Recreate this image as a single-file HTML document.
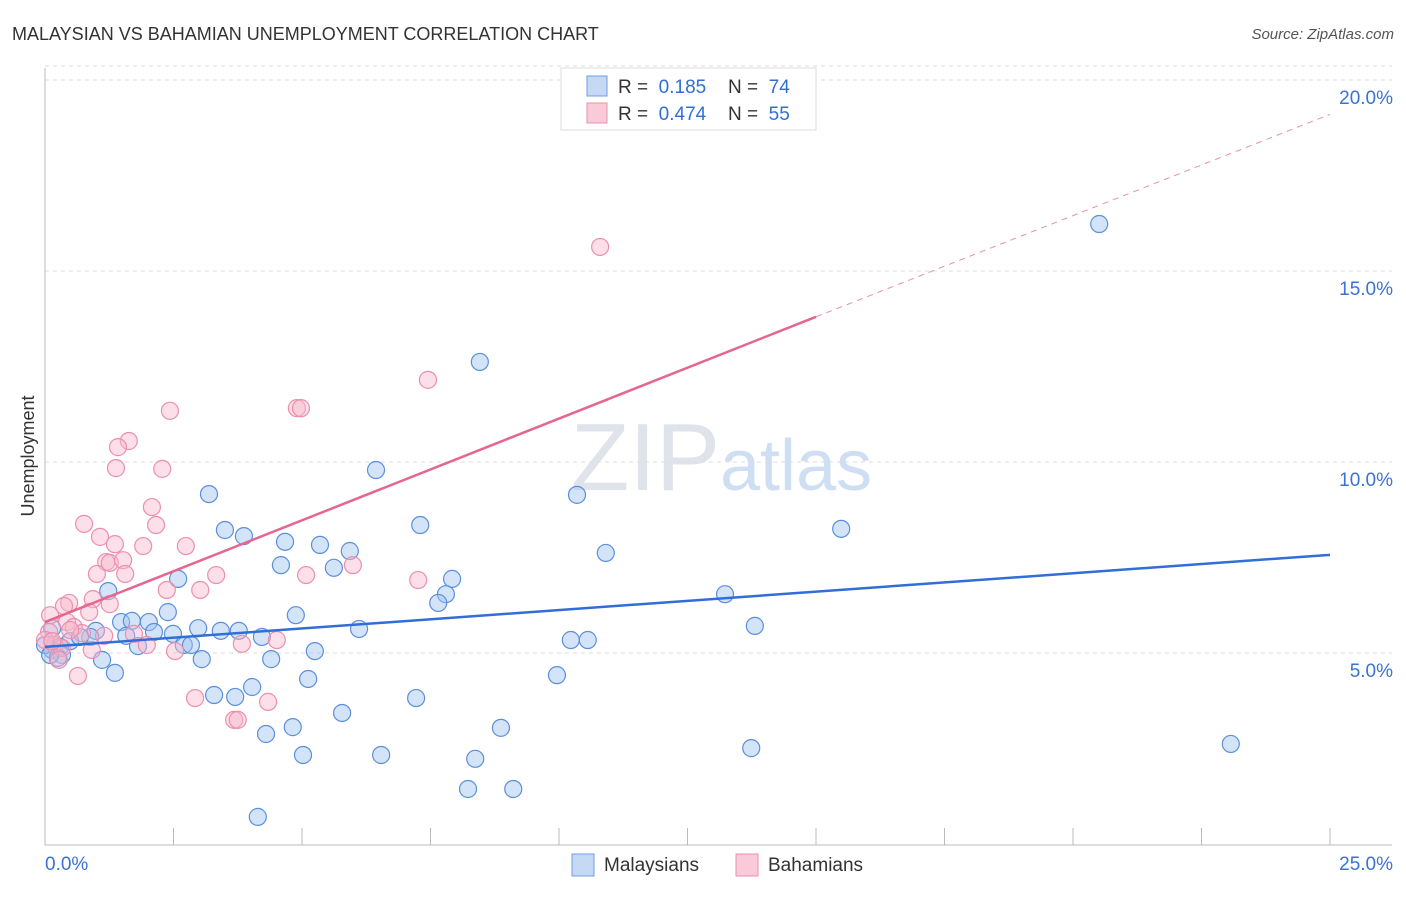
<!DOCTYPE html>
<html><head><meta charset="utf-8"><style>
body{margin:0;background:#fff;font-family:"Liberation Sans",sans-serif}
svg text{font-family:"Liberation Sans",sans-serif}
</style></head><body>
<svg id="c" width="1406" height="892" xmlns="http://www.w3.org/2000/svg">
<text x="12" y="40" font-size="18" fill="#333">MALAYSIAN VS BAHAMIAN UNEMPLOYMENT CORRELATION CHART</text>
<text x="1394" y="39" font-size="15" fill="#555" font-style="italic" text-anchor="end">Source: ZipAtlas.com</text>
<text x="720" y="490" font-size="96" fill="#dfe3ea" text-anchor="end" font-family="Liberation Serif">ZIP</text>
<text x="720" y="490" font-size="72" fill="#cfdff3">atlas</text>
<text x="34" y="456" font-size="18" fill="#333" text-anchor="middle" transform="rotate(-90 34 456)">Unemployment</text>
<g id="grid"></g><g id="pts"></g><g id="lines"></g>
<g>
<rect x="561" y="68" width="255" height="62" fill="#fff" stroke="#ddd"/>
<rect x="587" y="76" width="20" height="20" fill="#c5d9f5" stroke="#6f9ee0"/>
<rect x="587" y="103" width="20" height="20" fill="#f9cad8" stroke="#ec8fae"/>
<text x="618" y="93" font-size="19" fill="#333">R = <tspan fill="#2f6fd6">&#160;0.185</tspan><tspan x="728">N = </tspan><tspan fill="#2f6fd6">&#160;74</tspan></text>
<text x="618" y="120" font-size="19" fill="#333">R = <tspan fill="#2f6fd6">&#160;0.474</tspan><tspan x="728">N = </tspan><tspan fill="#2f6fd6">&#160;55</tspan></text>
</g>
<g>
<rect x="572" y="854" width="22" height="22" fill="#c5d9f5" stroke="#6f9ee0"/>
<text x="604" y="871" font-size="19" fill="#333">Malaysians</text>
<rect x="736" y="854" width="22" height="22" fill="#f9cad8" stroke="#ec8fae"/>
<text x="768" y="871" font-size="19" fill="#333">Bahamians</text>
</g>
</svg>
<script>
const yTicks=[5,10,15,20];
const xLabels=["0.0%","25.0%"];
const bluePx=[[1099,224],[480,362],[376,470],[209,494],[577,495],[225,530],[244,536],[420,525],[841,529],[285,542],[320,545],[350,551],[606,553],[281,565],[334,568],[178,579],[452,579],[108,591],[446,594],[438,603],[725,594],[168,612],[296,615],[121,622],[149,622],[132,621],[198,628],[221,631],[239,631],[755,626],[359,629],[96,631],[154,632],[173,634],[126,636],[262,637],[571,640],[588,640],[90,637],[52,628],[70,641],[138,646],[184,645],[191,645],[60,647],[315,651],[52,650],[62,655],[102,660],[202,659],[271,659],[58,658],[115,673],[557,675],[308,679],[252,687],[214,695],[235,697],[416,698],[342,713],[293,727],[501,728],[266,734],[751,748],[1231,744],[303,755],[381,755],[475,759],[468,789],[513,789],[258,817],[80,637],[45,645],[50,655]];
const pinkPx=[[600,247],[428,380],[170,411],[297,408],[301,408],[129,441],[118,447],[116,468],[162,469],[152,507],[84,524],[156,525],[100,537],[115,544],[143,546],[186,546],[106,562],[110,563],[353,565],[123,560],[97,574],[125,574],[216,575],[306,575],[418,580],[167,590],[200,590],[93,599],[69,603],[110,604],[64,606],[50,615],[89,612],[67,622],[74,627],[49,632],[104,636],[134,634],[82,633],[55,645],[62,648],[92,650],[147,645],[175,651],[242,644],[277,640],[45,640],[59,660],[78,676],[195,698],[268,702],[234,720],[238,720],[52,641],[70,630]];
// data values (x %, y %)
const malaysians=bluePx.map(p=>[+((p[0]-45)/51.4).toFixed(2),+((844-p[1])/38.2).toFixed(2)]);
const bahamians=pinkPx.map(p=>[+((p[0]-45)/51.4).toFixed(2),+((844-p[1])/38.2).toFixed(2)]);
const blueTrend=[[0,5.16],[25,7.57]];
const pinkTrend=[[0,5.81],[15,13.8],[25,19.1]];
const X=v=>45+v*51.4, Y=v=>844-v*38.2;
const NS="http://www.w3.org/2000/svg";
function mk(t,a,par){const e=document.createElementNS(NS,t);for(const k in a)e.setAttribute(k,a[k]);document.getElementById(par).appendChild(e);return e;}
yTicks.forEach(t=>{
 const l=mk("line",{x1:45,x2:1392,y1:Y(t),y2:Y(t),stroke:"#ddd","stroke-dasharray":"4,4"},"grid");
 
 
 const tx=mk("text",{x:1393,y:Y(t)+24,"font-size":19,fill:"#3b73d1","text-anchor":"end"},"grid");
 tx.textContent=t.toFixed(1)+"%";
 
 
});
const tl=mk("line",{x1:45,x2:1392,y1:Y(20)-14,y2:Y(20)-14,stroke:"#ddd","stroke-dasharray":"4,4"},"grid");
mk("line",{x1:45,x2:45,y1:68,y2:845,stroke:"#bbb"},"grid");
const ax=mk("line",{x1:45,x2:1392,y1:845,y2:845,stroke:"#bbb"},"grid");


for(let i=0;i<=10;i++){mk("line",{x1:X(i*2.5),x2:X(i*2.5),y1:828,y2:845,stroke:"#bbb"},"grid");}
xLabels.forEach((s,i)=>{const t=mk("text",{x:i?1393:45,y:870,"font-size":19,fill:"#3b73d1","text-anchor":i?"end":"start"},"grid");t.textContent=s;
 
 });
malaysians.forEach(d=>{const c=mk("circle",{cx:X(d[0]),cy:Y(d[1]),r:8.5,fill:"rgba(160,195,240,0.45)",stroke:"#5b8fdb","stroke-width":1.2},"pts");
 
 });
bahamians.forEach(d=>{const c=mk("circle",{cx:X(d[0]),cy:Y(d[1]),r:8.5,fill:"rgba(248,185,205,0.45)",stroke:"#ec8fae","stroke-width":1.2},"pts");
 
 });
const bl=mk("line",{x1:X(blueTrend[0][0]),y1:Y(blueTrend[0][1]),x2:X(blueTrend[1][0]),y2:Y(blueTrend[1][1]),stroke:"#2f6fd6","stroke-width":2.5},"lines");


const pl=mk("line",{x1:X(pinkTrend[0][0]),y1:Y(pinkTrend[0][1]),x2:X(pinkTrend[1][0]),y2:Y(pinkTrend[1][1]),stroke:"#e5668f","stroke-width":2.5},"lines");


const pd=mk("line",{x1:X(pinkTrend[1][0]),y1:Y(pinkTrend[1][1]),x2:X(pinkTrend[2][0]),y2:Y(pinkTrend[2][1]),stroke:"#eb8fae","stroke-width":1,"stroke-dasharray":"6,5"},"lines");


</script>
</body></html>
